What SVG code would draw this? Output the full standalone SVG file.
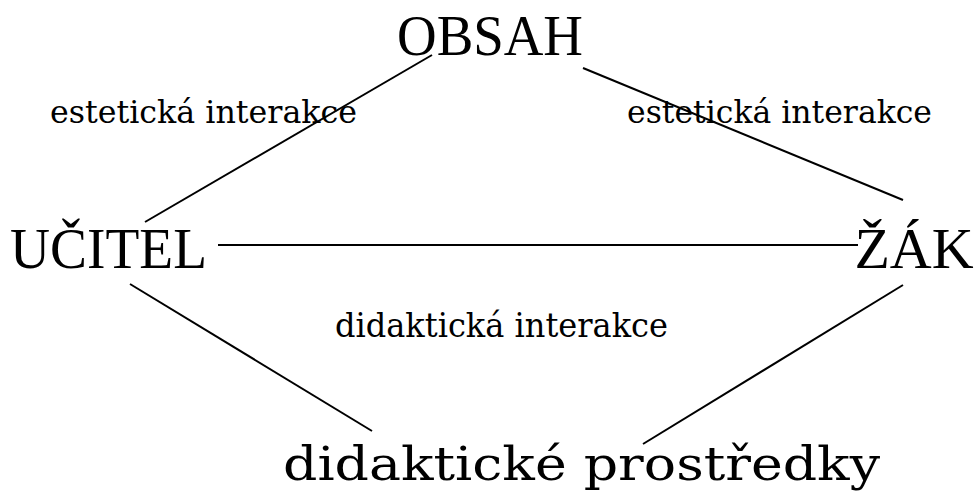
<svg xmlns="http://www.w3.org/2000/svg" width="977" height="492" viewBox="0 0 977 492">
<style>
.cap{font-family:"Liberation Serif","Times New Roman",serif;font-size:58px;fill:#000}
.lab{font-family:"DejaVu Serif","Liberation Serif",serif;fill:#000}
.ln{stroke:#000;stroke-width:2;fill:none}
</style>
<rect width="977" height="492" fill="#fff"/>
<g id="connectors">
<line class="ln" x1="145" y1="222" x2="432" y2="55"/>
<line class="ln" x1="583" y1="68" x2="903" y2="200"/>
<line class="ln" x1="218" y1="245" x2="858" y2="245"/>
<line class="ln" x1="130" y1="284" x2="372" y2="431"/>
<line class="ln" x1="903" y1="285" x2="643" y2="444"/>
</g>
<g id="obsah"><text class="cap" x="397" y="55" textLength="186" lengthAdjust="spacingAndGlyphs">OBSAH</text></g>
<g id="ucitel"><text class="cap" x="10" y="268" textLength="197" lengthAdjust="spacingAndGlyphs">UČITEL</text></g>
<g id="zak"><text class="cap" x="914" y="268" font-size="56" text-anchor="middle">ŽÁK</text></g>
<g id="prostredky"><text class="lab" x="283" y="480" font-size="46" textLength="597" lengthAdjust="spacingAndGlyphs">didaktické prostředky</text></g>
<g id="labels">
<text class="lab" x="50" y="123" font-size="32" textLength="307" lengthAdjust="spacingAndGlyphs">estetická interakce</text>
<text class="lab" x="627" y="123" font-size="32" textLength="305" lengthAdjust="spacingAndGlyphs">estetická interakce</text>
<text class="lab" x="335" y="337" font-size="33" textLength="333" lengthAdjust="spacingAndGlyphs">didaktická interakce</text>
</g>
</svg>
